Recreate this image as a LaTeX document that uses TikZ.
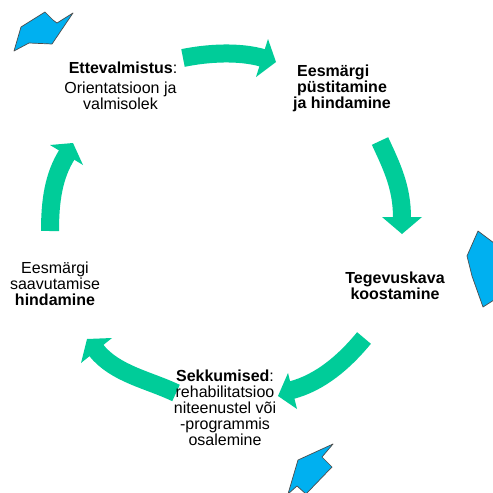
\documentclass[tikz,border=0pt]{standalone}
\usepackage{fontspec}
\setmainfont{Liberation Sans}
\definecolor{cyclegreen}{RGB}{0,204,153}
\definecolor{skyblue}{RGB}{0,176,240}
\begin{document}
\begin{tikzpicture}[x=1pt,y=-1pt,
  lbl/.style={inner sep=0pt, align=center, font=\fontsize{16}{16}\selectfont},
  lblb/.style={lbl, font=\fontsize{16}{16}\selectfont\bfseries},
  body/.style={draw=cyclegreen, line width=18pt},
  head/.style={fill=cyclegreen},
  bluearrow/.style={fill=skyblue, draw=black!70, line width=0.7pt, line join=round}]
\useasboundingbox[fill=white] (0,0) rectangle (493,493);

% green cycle arrows
\coordinate (g1s) at (183,58);  \coordinate (g1e) at (263,58);
\draw[body] (g1s) .. controls (207,53) and (239,51) .. (g1e);
\fill[head] (268,39) -- (276,62) -- (256,77) -- cycle;

\coordinate (g2s) at (380,141); \coordinate (g2e) at (402,218);
\draw[body] (g2s) .. controls (392.6,168) and (402,188) .. (g2e);
\fill[head] (382,217) -- (422,217) -- (402,234) -- cycle;

\coordinate (g3s) at (364,338); \coordinate (g3e) at (291,390.3);
\draw[body] (g3s) .. controls (345,361) and (321,382.5) .. (g3e);
\fill[head] (288,373) -- (278,396) -- (297,409) -- cycle;

\coordinate (g4s) at (176,393); \coordinate (g4e) at (96,350);
\draw[body] (g4s) .. controls (149,380) and (115,374) .. (g4e);
\fill[head] (112,338) -- (87,339) -- (81,363) -- cycle;

\coordinate (g5s) at (50,231); \coordinate (g5e) at (67,154.5);
\draw[body] (g5s) .. controls (50,201) and (53.5,176) .. (g5e);
\fill[head] (50,145) -- (73,143) -- (83,165) -- cycle;

% blue arrows
\draw[bluearrow] (14,51) -- (21,27) -- (45,12) -- (53,20) -- (57,23) -- (73,13) -- (52,44) -- (29,43) -- cycle;
\draw[bluearrow] (494,243) -- (478,231) -- (467,256) -- (472,276) -- (483,307) -- (494,300) -- cycle;
\draw[bluearrow] (333,444) -- (298,460) -- (288,494) -- (297,486) -- (306,494) -- (332,467) -- (322,457) -- cycle;

% texts
\node[lbl] (prep) at (123,68) {\textbf{Ettevalmistus}:};
\node[lbl] (prepb) at (120.5,96) {Orientatsioon ja\\valmisolek};
\node[lblb] (goal) at (342,88) {Eesmärgi\hspace*{1.1em}\\püstitamine\\ja hindamine};
\node[lblb] (plan) at (395,286) {Tegevuskava\\koostamine};
\node[lbl] (eval) at (55,284) {Eesmärgi\\saavutamise\\\textbf{hindamine}};
\node[lbl] (interv) at (225,408) {\textbf{Sekkumised}:\\rehabilitatsioo\\niteenustel või\\-programmis\\osalemine};
\end{tikzpicture}
\end{document}
